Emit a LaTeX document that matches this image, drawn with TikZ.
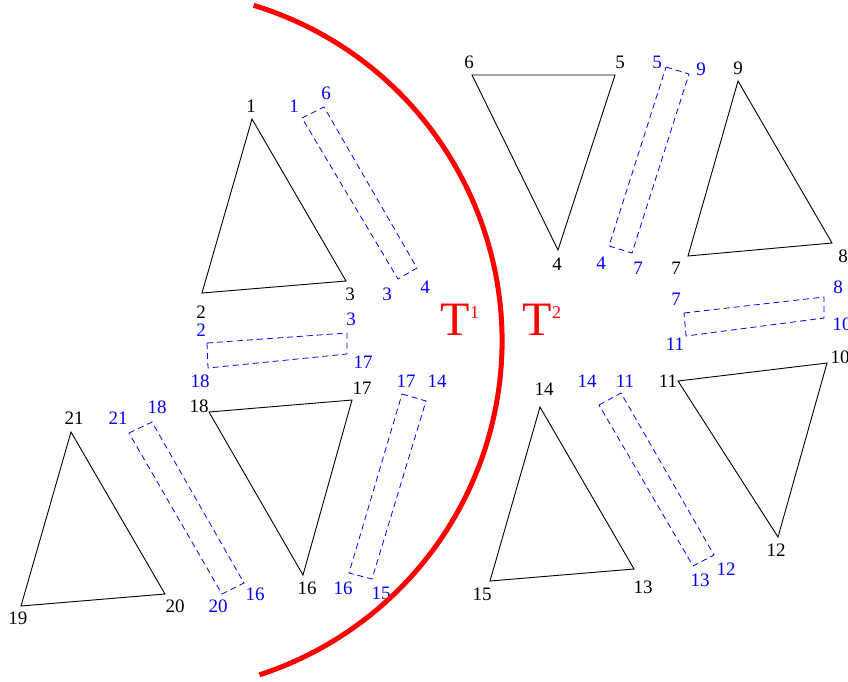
\documentclass[tikz,border=0pt]{standalone}
\usepackage{fontspec}
\setmainfont{Liberation Serif}
\begin{document}
\begin{tikzpicture}[x=1pt, y=-1pt,
  every node/.style={font=\fontsize{19}{19}\selectfont, inner sep=0pt},
  elem/.style={draw=black, line width=0.9pt},
  patch/.style={draw=blue, line width=0.8pt, dash pattern=on 6pt off 4pt},
  vlab/.style={black}, plab/.style={blue},
  sublab/.style={red, font=\fontsize{48}{48}\selectfont}]
  \useasboundingbox (0,0) rectangle (848,681);
  % element corners, numbered as printed
  \foreach \n/\x/\y in {1/252/119, 2/202/293, 3/346/281, 4/558/250, 5/615/75, 6/472/75,
      7/688/256, 8/832/243, 9/738/81, 10/827/363, 11/678/381, 12/778/537,
      13/634/569, 14/540/407, 15/490/581, 16/303/575, 17/352/400, 18/209/412,
      19/21/606, 20/165/594, 21/71/432}
    \coordinate (v\n) at (\x,\y);
  \foreach \a/\b/\c in {1/2/3, 18/17/16, 21/19/20, 6/5/4, 9/7/8, 11/10/12, 14/15/13}
    \draw[elem] (v\a) -- (v\b) -- (v\c) -- cycle;
  \foreach \n/\x/\y in {1/251/106, 2/201/312, 3/350/294, 4/557/264, 5/620/62, 6/469/62,
      7/676/268, 8/843/256, 9/738/68, 10/840/357, 11/668/381, 12/776/550,
      13/643/587, 14/544/389, 15/482/594, 16/307/588, 17/362/388, 18/199/406,
      19/18/618, 20/175/606, 21/74/418}
    \node[vlab] (n\n) at (\x,\y) {\n};
  % interface strips between elements
  \foreach \e/\ax/\ay/\bx/\by/\cx/\cy/\dx/\dy in {
      e1/302/118/324/107/417/268/398/279,
      e2/207/343/347/333/347/354/208/368,
      e3/402/394/426/401/372/579/349/573,
      e4/129/433/152/422/244/583/222/594,
      e5/666/67/689/74/632/253/609/246,
      e6/684/313/824/297/824/318/686/336,
      e7/599/405/621/393/714/555/693/566} {
    \coordinate (\e a) at (\ax,\ay);
    \coordinate (\e b) at (\bx,\by);
    \coordinate (\e c) at (\cx,\cy);
    \coordinate (\e d) at (\dx,\dy);
    \draw[patch] (\e a) -- (\e b) -- (\e c) -- (\e d) -- cycle;
  }
  \foreach \n/\t/\x/\y in {
      e1a/1/294/106, e1b/6/326/93, e1c/4/425/287, e1d/3/387/294,
      e2a/2/201/330, e2b/3/351/319, e2c/17/363/362, e2d/18/200/381,
      e3a/17/406/381, e3b/14/437/381, e3c/15/381/593, e3d/16/343/588,
      e4a/21/118/418, e4b/18/157/407, e4c/16/255/594, e4d/20/218/606,
      e5a/5/657/62, e5b/9/701/69, e5c/7/638/268, e5d/4/601/263,
      e6a/7/676/299, e6b/8/838/287, e6c/10/842/324, e6d/11/675/344,
      e7a/14/587/381, e7b/11/625/381, e7c/12/726/569, e7d/13/700/580}
    \node[plab] (l\n) at (\x,\y) {\t};
  % subdomain boundary
  \coordinate (ctr) at (151,341);
  \draw[red, line width=5pt] (ctr) ++(-73:351) arc[start angle=-73, end angle=72, radius=351];
  \node[sublab] (T1) at (460,320) {T\raisebox{17pt}{\fontsize{18}{18}\selectfont 1}};
  \node[sublab] (T2) at (542,320) {T\raisebox{17pt}{\fontsize{18}{18}\selectfont 2}};
\end{tikzpicture}
\end{document}
